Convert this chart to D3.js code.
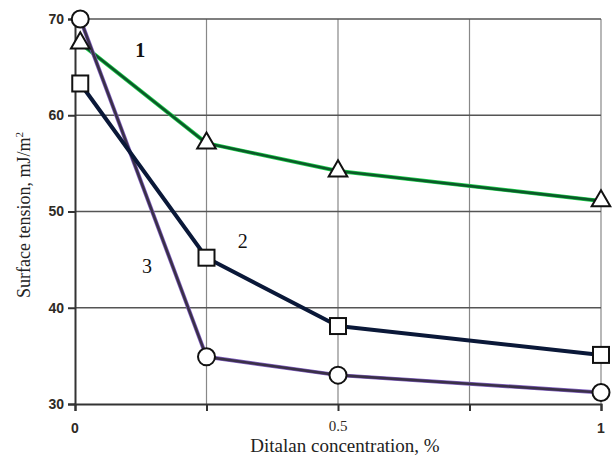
<!DOCTYPE html>
<html>
<head>
<meta charset="utf-8">
<script src="https://cdn.jsdelivr.net/npm/d3@7"></script>
<style>
  html, body { margin: 0; padding: 0; background: #fff; }
  svg { display: block; }
</style>
</head>
<body>
<svg id="chart" width="612" height="456"></svg>
<script>
// Ditalan concentration, %
const concentration = [0.01, 0.25, 0.5, 1];
// Surface tension, mJ/m^2 for each curve
const curve1 = [67.5, 57.1, 54.2, 51.1];
const curve2 = [63.3, 45.2, 38.1, 35.1];
const curve3 = [70.0, 34.9, 33.0, 31.2];
const curveLabels = ["1", "2", "3"];
const yTicks = [30, 40, 50, 60, 70];
const xGrid = [0, 0.25, 0.5, 0.75, 1];
const xTickLabels = [[0, "0"], [0.5, "0.5"], [1, "1"]];

const svg = d3.select("#chart");
const x = d3.scaleLinear().domain([0, 1]).range([75, 601]);
const y = d3.scaleLinear().domain([30, 70]).range([404, 19]);

// grid
svg.append("g").selectAll("line").data(xGrid.slice(1)).join("line")
  .attr("x1", d => x(d)).attr("x2", d => x(d))
  .attr("y1", y(70)).attr("y2", y(30))
  .attr("stroke", "#888").attr("stroke-width", 1.2);
svg.append("g").selectAll("line").data(yTicks.slice(1)).join("line")
  .attr("x1", x(0)).attr("x2", x(1))
  .attr("y1", d => y(d)).attr("y2", d => y(d))
  .attr("stroke", "#555").attr("stroke-width", 1.5);

// axes
const yAxis = svg.append("g").attr("transform", `translate(${x(0)},0)`)
  .call(d3.axisLeft(y).tickValues(yTicks).tickSize(7).tickFormat(d3.format("d")));
yAxis.select(".domain").attr("stroke", "#333").attr("stroke-width", 2);
yAxis.selectAll(".tick line").attr("stroke", "#333").attr("stroke-width", 2);
yAxis.selectAll(".tick text")
  .attr("font-family", "Liberation Sans, Arial, sans-serif")
  .attr("font-weight", "bold").attr("font-size", 14).attr("fill", "#2e2a24")
  .attr("dx", "-1");

const xAxis = svg.append("g").attr("transform", `translate(0,${y(30)})`)
  .call(d3.axisBottom(x).tickValues(xGrid).tickSize(7).tickFormat(""));
xAxis.select(".domain").attr("stroke", "#333").attr("stroke-width", 2);
xAxis.selectAll(".tick line").attr("stroke", "#333").attr("stroke-width", 2);

svg.append("g").selectAll("text").data(xTickLabels).join("text")
  .attr("x", d => x(d[0])).attr("y", d => d[1] === "0.5" ? 431 : 433)
  .attr("text-anchor", "middle")
  .attr("font-family", d => d[1] === "0.5" ? "Liberation Serif, Times New Roman, serif" : "Liberation Sans, Arial, sans-serif")
  .attr("font-weight", d => d[1] === "0.5" ? "normal" : "bold")
  .attr("font-size", d => d[1] === "0.5" ? 15 : 14)
  .attr("fill", "#2e2a24")
  .text(d => d[1]);

// axis titles
svg.append("text")
  .attr("x", 345).attr("y", 452)
  .attr("text-anchor", "middle")
  .attr("font-family", "Liberation Serif, Times New Roman, serif")
  .attr("font-size", 19).attr("fill", "#222")
  .text("Ditalan concentration, %");

const yt = svg.append("text")
  .attr("transform", "translate(30,215) rotate(-90)")
  .attr("text-anchor", "middle")
  .attr("font-family", "Liberation Serif, Times New Roman, serif")
  .attr("font-size", 18).attr("fill", "#222");
yt.append("tspan").text("Surface tension,  mJ/m");
yt.append("tspan").attr("dy", -7).attr("font-size", 11).text("2");

// curves
const line = d3.line().x(d => x(d[0])).y(d => y(d[1]));
const pts = vals => concentration.map((c, i) => [c, vals[i]]);

function drawLine(vals, outer, outerW, inner, innerW) {
  svg.append("path").datum(pts(vals)).attr("d", line)
    .attr("fill", "none").attr("stroke", outer).attr("stroke-width", outerW)
    .attr("stroke-linejoin", "round");
  if (inner) {
    svg.append("path").datum(pts(vals)).attr("d", line)
      .attr("fill", "none").attr("stroke", inner).attr("stroke-width", innerW)
      .attr("stroke-linejoin", "round");
  }
}
drawLine(curve1, "#22d050", 4, "#0a5a28", 2.6);
drawLine(curve3, "#8060c0", 4, "#3a3048", 2.6);
drawLine(curve2, "#0a1838", 4, null, 0);

// markers
svg.append("g").selectAll("path").data(pts(curve1)).join("path")
  .attr("transform", d => `translate(${x(d[0])},${y(d[1])})`)
  .attr("d", d3.symbol(d3.symbolTriangle, 150))
  .attr("fill", "#fff").attr("stroke", "#111").attr("stroke-width", 2);
svg.append("g").selectAll("rect").data(pts(curve2)).join("rect")
  .attr("x", d => x(d[0]) - 8).attr("y", d => y(d[1]) - 8)
  .attr("width", 16).attr("height", 16)
  .attr("fill", "#fff").attr("stroke", "#111").attr("stroke-width", 2);
svg.append("g").selectAll("circle").data(pts(curve3)).join("circle")
  .attr("cx", d => x(d[0])).attr("cy", d => y(d[1])).attr("r", 8.5)
  .attr("fill", "#fff").attr("stroke", "#111").attr("stroke-width", 2);

// curve numbers
const labelPos = [[0.124, 66.1], [0.319, 46.2], [0.137, 43.6]];
svg.append("g").selectAll("text").data(curveLabels).join("text")
  .attr("x", (d, i) => x(labelPos[i][0])).attr("y", (d, i) => y(labelPos[i][1]))
  .attr("text-anchor", "middle")
  .attr("font-family", "Liberation Serif, Times New Roman, serif")
  .attr("font-weight", (d, i) => i === 0 ? "bold" : "normal")
  .attr("font-size", 20).attr("fill", "#111")
  .text(d => d);
</script>
</body>
</html>
